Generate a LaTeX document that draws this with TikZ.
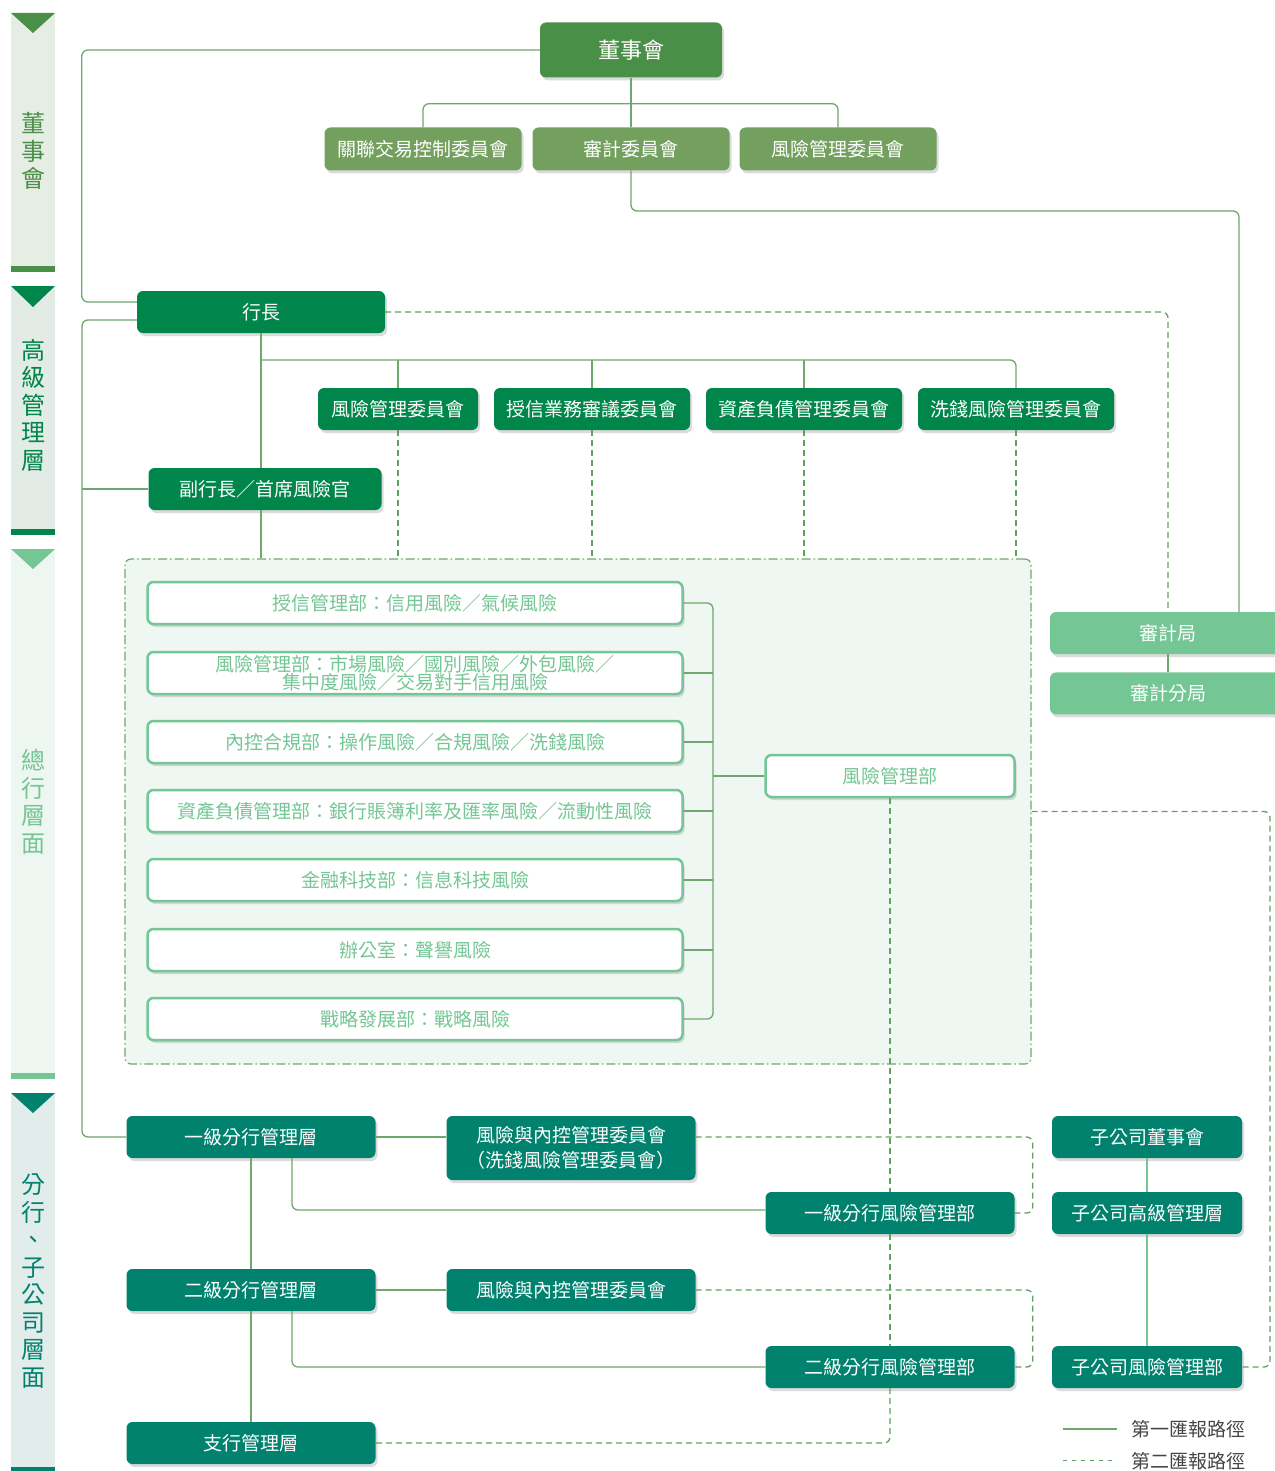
\documentclass[tikz,border=0pt]{standalone}
\usepackage{fontspec}
\setmainfont{Noto Sans CJK TC}
\definecolor{BoardGreen}{HTML}{4A8F47}
\definecolor{CommOlive}{HTML}{73A05E}
\definecolor{ExecGreen}{HTML}{00854A}
\definecolor{LightGreen}{HTML}{74C695}
\definecolor{BranchTeal}{HTML}{00826F}
\definecolor{LineGreen}{HTML}{6FA86C}
\definecolor{DashGreen}{HTML}{5FA25F}
\definecolor{HQFill}{HTML}{EEF7F2}
\definecolor{BandA}{HTML}{E6EDE4}
\definecolor{BandB}{HTML}{E3EBE6}
\definecolor{BandC}{HTML}{EEF6F2}
\definecolor{BandD}{HTML}{E2ECEA}
\definecolor{LegendGrey}{HTML}{444444}
\usetikzlibrary{positioning, shadows, calc}

\begin{document}
\begin{tikzpicture}[
  x=1pt, y=-1pt,
  node distance=18pt and 20pt,
  base/.style={
    rectangle, rounded corners=6pt, align=center, text=white,
    inner sep=0pt, font=\fontsize{19}{22}\selectfont,
    drop shadow={shadow xshift=2pt, shadow yshift=-3pt, fill=black!35, opacity=.4}
  },
  boardbox/.style={base, fill=BoardGreen, minimum width=182pt, minimum height=55pt,
    font=\fontsize{22}{24}\selectfont},
  bcomm/.style={base, fill=CommOlive, minimum width=197pt, minimum height=43pt},
  execbox/.style={base, fill=ExecGreen, minimum height=42pt},
  dept/.style={base, fill=white, draw=LightGreen, line width=2.5pt, text=LightGreen,
    minimum width=535pt, minimum height=42pt},
  auditbox/.style={base, fill=LightGreen, minimum width=236pt, minimum height=42pt},
  branchbox/.style={base, fill=BranchTeal, minimum width=249pt, minimum height=42pt},
  subbox/.style={base, fill=BranchTeal, minimum width=190pt, minimum height=42pt},
  hqframe/.style={rectangle, rounded corners=6pt, fill=HQFill, draw=LineGreen,
    line width=1.2pt, dash pattern=on 9pt off 3pt on 1.5pt off 3pt,
    minimum width=906pt, minimum height=505pt},
  bandtext/.style={align=center, font=\fontsize{24}{27.5}\selectfont},
  solidln/.style={draw=LineGreen, line width=1.3pt, rounded corners=6pt},
  dashln/.style={draw=DashGreen, line width=1.3pt, dash pattern=on 6pt off 4pt,
    rounded corners=6pt},
]
\useasboundingbox (0,0) rectangle (1274,1471);

% side bands
\fill[BandA] (11,13) rectangle (55,266);
\fill[BoardGreen] (11,13) -- (55,13) -- (33,33) -- cycle;
\fill[BoardGreen] (11,266) rectangle (55,272);
\node[bandtext, text=BoardGreen] (bandboard) at (33,151) {董\\事\\會};

\fill[BandB] (11,286) rectangle (55,529);
\fill[ExecGreen] (11,286) -- (55,286) -- (33,307) -- cycle;
\fill[ExecGreen] (11,529) rectangle (55,535);
\node[bandtext, text=ExecGreen] (bandexec) at (33,405) {高\\級\\管\\理\\層};

\fill[BandC] (11,549) rectangle (55,1073);
\fill[LightGreen] (11,549) -- (55,549) -- (33,569) -- cycle;
\fill[LightGreen] (11,1073) rectangle (55,1079);
\node[bandtext, text=LightGreen] (bandhq) at (33,802) {總\\行\\層\\面};

\fill[BandD] (11,1093) rectangle (55,1467);
\fill[BranchTeal] (11,1093) -- (55,1093) -- (33,1113) -- cycle;
\fill[BranchTeal] (11,1467) rectangle (55,1471);
\node[bandtext, text=BranchTeal] (bandbranch) at (33,1281) {分\\行\\、\\子\\公\\司\\層\\面};

% head office frame
\node[hqframe] (hq) at (578,811.5) {};

% board level
\node[boardbox] (board) at (631,50) {董事會};
\node[bcomm] (bc1) at (423,149) {關聯交易控制委員會};
\node[bcomm] (bc2) at (631,149) {審計委員會};
\node[bcomm] (bc3) at (838,149) {風險管理委員會};

% senior management
\node[execbox, minimum width=248pt] (ceo) at (261,312) {行長};
\node[execbox, minimum width=160pt] (ec1) at (398,409) {風險管理委員會};
\node[execbox, minimum width=196pt] (ec2) at (592,409) {授信業務審議委員會};
\node[execbox, minimum width=196pt] (ec3) at (804,409) {資產負債管理委員會};
\node[execbox, minimum width=196pt] (ec4) at (1016,409) {洗錢風險管理委員會};
\node[execbox, minimum width=233pt] (vp) at (265,489) {副行長／首席風險官};

% audit
\node[auditbox] (audit) at (1168,633) {審計局};
\node[auditbox, below=of audit] (subaudit) {審計分局};

% head office departments
\node[dept] (d1) at (415,603) {授信管理部：信用風險／氣候風險};
\node[dept, font=\fontsize{19}{18}\selectfont] (d2) at (415,673)
  {風險管理部：市場風險／國別風險／外包風險／\\集中度風險／交易對手信用風險};
\node[dept] (d3) at (415,742) {內控合規部：操作風險／合規風險／洗錢風險};
\node[dept] (d4) at (415,811) {資產負債管理部：銀行賬簿利率及匯率風險／流動性風險};
\node[dept] (d5) at (415,880) {金融科技部：信息科技風險};
\node[dept] (d6) at (415,950) {辦公室：聲譽風險};
\node[dept] (d7) at (415,1019) {戰略發展部：戰略風險};
\node[dept, minimum width=249pt] (rmd) at (890,776) {風險管理部};

% branches and subsidiaries
\node[branchbox] (b1) at (251,1137) {一級分行管理層};
\node[branchbox, minimum height=64pt, font=\fontsize{19}{25}\selectfont] (rc1) at (571,1148)
  {風險與內控管理委員會\\（洗錢風險管理委員會）};
\node[branchbox] (r1) at (890,1213) {一級分行風險管理部};
\node[branchbox] (b2) at (251,1290) {二級分行管理層};
\node[branchbox] (rc2) at (571,1290) {風險與內控管理委員會};
\node[branchbox] (r2) at (890,1367) {二級分行風險管理部};
\node[branchbox] (b3) at (251,1443) {支行管理層};
\node[subbox] (s1) at (1147,1137) {子公司董事會};
\node[subbox] (s2) at (1147,1213) {子公司高級管理層};
\node[subbox] (s3) at (1147,1367) {子公司風險管理部};

% helper coordinates
\coordinate (leftbus) at (82,0);
\coordinate (ebus) at (261,360);
\coordinate (auditturn) at (1239,211);
\coordinate (hqbus) at (713,0);
\coordinate (rightbus) at (1270,0);

% first reporting line
\draw[solidln] (board.west) -| ($(ceo.west)+(-55,-10)$) -- ($(ceo.west)+(0,-10)$);
\draw[solidln] (board.south) -- (bc2.north);
\draw[solidln] (bc1.north) |- ($(board.south)+(0,26)$) -| (bc3.north);
\draw[solidln] (bc2.south) |- (auditturn) -- (auditturn |- audit.north);
\draw[solidln] (audit.south) -- (subaudit.north);

\draw[solidln] ($(ceo.west)+(0,8)$) -| (leftbus |- b1.west) -- (b1.west);
\draw[solidln] (leftbus |- vp.west) -- (vp.west);
\draw[solidln] (ceo.south) -- (ceo.south |- vp.north);
\draw[solidln] (ceo.south |- vp.south) -- (ceo.south |- hq.north);
\draw[solidln] (ebus) -| (ec4.north);
\draw[solidln] (ec1.north |- ebus) -- (ec1.north);
\draw[solidln] (ec2.north |- ebus) -- (ec2.north);
\draw[solidln] (ec3.north |- ebus) -- (ec3.north);

\draw[solidln] (d1.east) -- (hqbus |- d1.east) |- (d7.east);
\draw[solidln] (d2.east) -- (hqbus |- d2.east);
\draw[solidln] (d3.east) -- (hqbus |- d3.east);
\draw[solidln] (d4.east) -- (hqbus |- d4.east);
\draw[solidln] (d5.east) -- (hqbus |- d5.east);
\draw[solidln] (d6.east) -- (hqbus |- d6.east);
\draw[solidln] (hqbus |- rmd.west) -- (rmd.west);

\draw[solidln] (b1.east) -- (b1.east -| rc1.west);
\draw[solidln] (b2.east) -- (rc2.west);
\draw[solidln] (b1.south) -- (b2.north);
\draw[solidln] (b2.south) -- (b3.north);
\draw[solidln] ($(b1.south)+(41,0)$) |- ($(r1.west)+(0,-3)$);
\draw[solidln] ($(b2.south)+(41,0)$) |- (r2.west);
\draw[solidln, draw=LightGreen] (s1.south) -- (s2.north);
\draw[solidln, draw=LightGreen] (s2.south) -- (s3.north);

% second reporting line
\draw[dashln] (ceo.east) -| (audit.north);
\draw[dashln] (ec1.south) -- (ec1.south |- hq.north);
\draw[dashln] (ec2.south) -- (ec2.south |- hq.north);
\draw[dashln] (ec3.south) -- (ec3.south |- hq.north);
\draw[dashln] (ec4.south) -- (ec4.south |- hq.north);
\draw[dashln] (hq.east) -| (rightbus |- s3.east) -- (s3.east);
\draw[dashln] (rmd.south) -- (r1.north);
\draw[dashln] (r1.south) -- (r2.north);
\draw[dashln] (r2.south) |- (b3.east);
\draw[dashln] (rc1.east |- b1.east) -| ($(r1.east)+(18,0)$) -- (r1.east);
\draw[dashln] (rc2.east) -| ($(r2.east)+(18,0)$) -- (r2.east);

% legend
\coordinate (lgA1) at (1063,1429);
\coordinate (lgA2) at (1117,1429);
\coordinate (lgB1) at (1063,1460);
\coordinate (lgB2) at (1117,1460);
\draw[draw=LineGreen, line width=1.3pt] (lgA1) -- (lgA2);
\draw[draw=DashGreen, line width=1pt, dash pattern=on 4pt off 5pt] (lgB1) -- (lgB2);
\node[anchor=west, text=LegendGrey, font=\fontsize{19}{22}\selectfont, inner sep=0pt]
  (lgfirst) at (1131,1429) {第一匯報路徑};
\node[anchor=west, text=LegendGrey, font=\fontsize{19}{22}\selectfont, inner sep=0pt]
  (lgsecond) at (1131,1461) {第二匯報路徑};
\end{tikzpicture}
\end{document}
